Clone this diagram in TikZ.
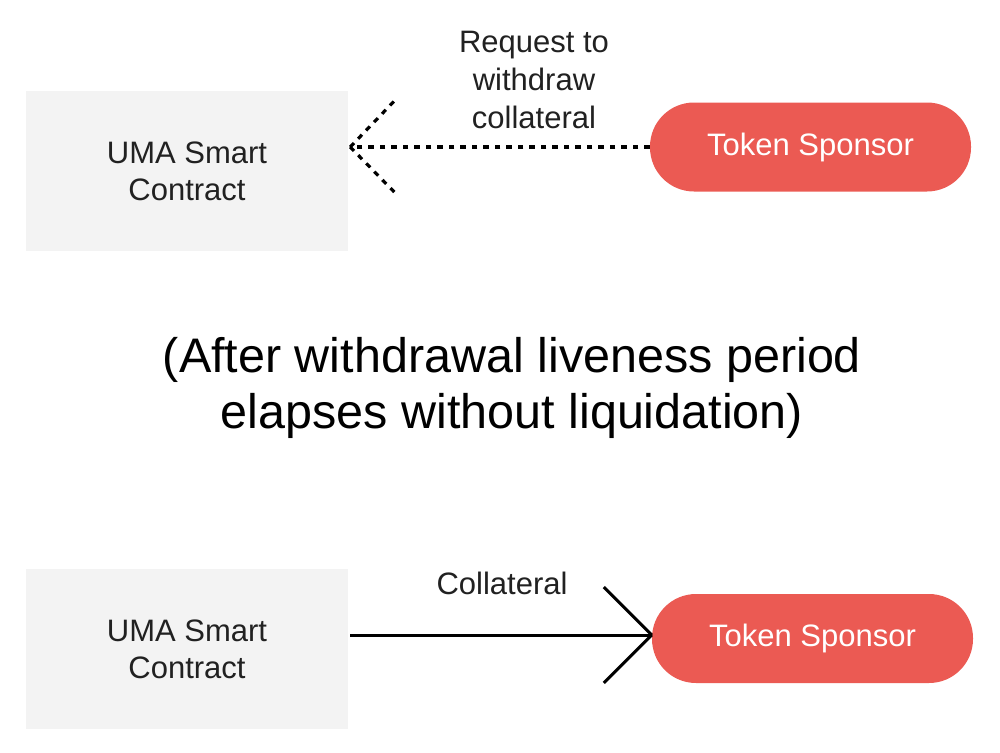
\documentclass[tikz,border=0pt]{standalone}
\usepackage{fontspec}
\setmainfont{Liberation Sans}
\definecolor{boxgray}{HTML}{F3F3F3}
\definecolor{sponsorred}{HTML}{EB5A53}
\definecolor{txt}{HTML}{212121}
\begin{document}
\begin{tikzpicture}[x=1pt,y=-1pt,
  umabox/.style={fill=boxgray, draw=none, minimum width=322pt, minimum height=160pt, align=center, text=txt, font=\fontsize{31}{37}\selectfont, inner sep=0pt},
  sponsor/.style={fill=sponsorred, draw=none, minimum width=321pt, minimum height=89pt, rounded corners=44pt, text=white, font=\fontsize{31}{37}\selectfont, inner sep=0pt},
  lbl/.style={align=center, text=txt, font=\fontsize{31}{38}\selectfont, inner sep=0pt},
  bigtxt/.style={align=center, text=black, font=\fontsize{48.5}{56}\selectfont, inner sep=0pt},
  dotline/.style={line width=3.2pt, dash pattern=on 5.5pt off 6pt, black},
  solidline/.style={line width=3pt, black}]
\useasboundingbox (0,0) rectangle (1000,752);
% top row
\node[umabox] (uma1) at (187,171) {UMA Smart\\Contract};
\node[sponsor] (sp1) at (810.5,147) {Token Sponsor};
\coordinate (tip1) at ([xshift=2pt]uma1.east |- sp1.west);
\draw[dotline] (sp1.west) -- (tip1);
\draw[dotline] (tip1) -- ++(46,-48);
\draw[dotline] (tip1) -- ++(46,47);
\node[lbl] (req) at (534,80) {Request to\\withdraw\\collateral};
% middle text
\node[bigtxt] (mid) at (512,388) {(After withdrawal liveness period\\elapses without liquidation)};
% bottom row
\node[umabox] (uma2) at (187,649) {UMA Smart\\Contract};
\node[sponsor] (sp2) at (812.5,638.5) {Token Sponsor};
\coordinate (tip2) at (sp2.west |- 0,635);
\draw[solidline] ([xshift=2pt]uma2.east |- tip2) -- (tip2);
\draw[solidline] (tip2) -- ++(-48,-48);
\draw[solidline] (tip2) -- ++(-48,48);
\node[lbl] (col) at (502,583) {Collateral};
\end{tikzpicture}
\end{document}
